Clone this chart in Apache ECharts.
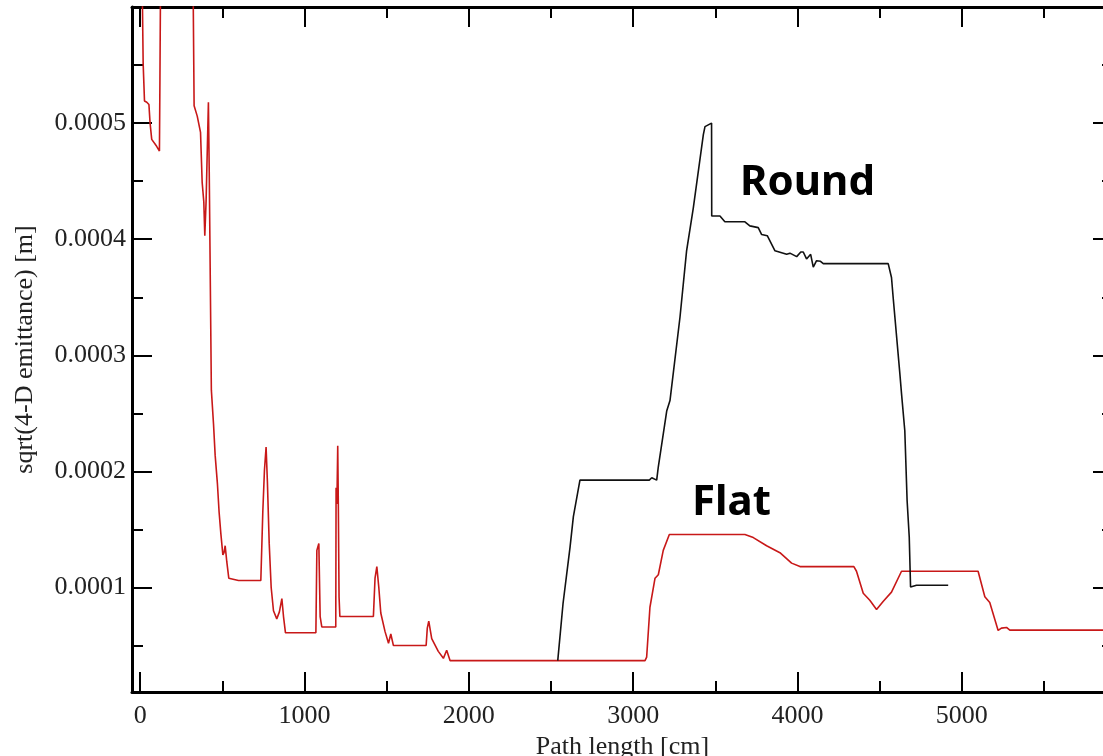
<!DOCTYPE html>
<html>
<head>
<meta charset="utf-8">
<script src="https://cdn.jsdelivr.net/npm/echarts@6/dist/echarts.min.js"></script>
<style>
  html, body { margin:0; padding:0; background:#fff; }
  #chart { width:1103px; height:756px; }
</style>
</head>
<body>
<div id="chart"></div>
<script>
// path length [cm] and sqrt(4-D emittance) [m]
let flatX = [0, 12, 18, 26, 40, 53, 60, 70, 100, 117, 120, 125, 200, 320, 328, 347, 367, 377, 387, 393, 401, 415, 420, 430, 433,
    446, 456, 470, 480, 491, 503, 510, 517, 522, 527, 539, 598, 734, 746, 756, 766, 774, 785, 797, 811, 831, 847, 862, 872, 884,
    1069, 1075, 1087, 1095, 1105, 1190, 1192, 1197, 1202, 1206, 1210, 1215, 1419, 1429, 1440, 1452, 1464, 1490, 1511, 1525, 1541,
    1740, 1747, 1756, 1774, 1814, 1845, 1865, 1886, 3072, 3082, 3102, 3133, 3153, 3183, 3220, 3680, 3731, 3812, 3893, 3964, 4015,
    4343, 4359, 4400, 4440, 4481, 4521, 4572, 4633, 5099, 5140, 5170, 5221, 5241, 5272, 5292, 6000];
let flatY = [0.0009, 0.00062, 0.000551, 0.000519, 0.000518, 0.000516, 0.0005, 0.000486, 0.00048, 0.000476, 0.000538, 0.00065, 0.0008,
    0.00065, 0.000515, 0.000506, 0.000492, 0.000449, 0.000432, 0.000403, 0.000433, 0.000518, 0.000459, 0.000459, 0.00027,
    0.000241, 0.000214, 0.000189, 0.000165, 0.000146, 0.000128, 0.00013, 0.000136, 0.000129, 0.000122, 0.000108, 0.000106, 0.000106,
    0.000165, 0.000201, 0.000221, 0.000191, 0.000138, 0.0001, 0.00008, 0.000073, 0.000079, 0.0000905, 0.000075, 0.000061,
    0.000061, 0.000132, 0.000138, 0.000075, 0.000066, 0.000066, 0.000186, 0.000172, 0.000222, 0.000166, 0.000092, 0.000075,
    0.000075, 0.000108, 0.000118, 0.0001, 0.000078, 0.000062, 0.000052, 0.00006, 0.00005,
    0.00005, 0.000065, 0.000071, 0.000056, 0.000045, 0.000039, 0.000046, 0.000037, 0.000037, 0.00004, 0.000083, 0.000108,
    0.000111, 0.000132, 0.0001456, 0.0001456, 0.000143, 0.000136, 0.00013, 0.000121, 0.000118,
    0.000118, 0.000114, 0.000095, 0.000089, 0.000081, 0.000088, 0.000096, 0.000114, 0.000114, 0.000092, 0.000087, 0.000063,
    0.000065, 0.0000656, 0.0000633, 0.0000633];

let roundX = [2541, 2573, 2616, 2636, 2676, 3098, 3113, 3123, 3143, 3153, 3204, 3224, 3285, 3325, 3366, 3427, 3437, 3447, 3477,
    3478, 3528, 3558, 3680, 3710, 3761, 3782, 3816, 3863, 3934, 3954, 3995, 4020, 4035, 4055, 4080, 4096, 4116, 4140, 4157,
    4552, 4572, 4582, 4623, 4633, 4653, 4667, 4680, 4688, 4700, 4724, 4917];
let roundY = [0.000037, 0.000086, 0.000135, 0.000161, 0.0001925, 0.0001925, 0.0001945, 0.000194, 0.0001925, 0.000204, 0.000252,
    0.000261, 0.000333, 0.00039, 0.000427, 0.00049, 0.000497, 0.000496, 0.0005,
    0.00042, 0.00042, 0.000415, 0.000415, 0.0004115, 0.00041, 0.000404, 0.000403, 0.00039, 0.000387, 0.000388, 0.000385, 0.000389,
    0.000389, 0.000383, 0.000387, 0.000376, 0.0003815, 0.000381, 0.000379,
    0.000379, 0.000367, 0.00035, 0.000284, 0.000267, 0.000235, 0.000175, 0.0001435, 0.0001005, 0.0001005, 0.000102, 0.000102];

let xMajor = [0, 1000, 2000, 3000, 4000, 5000];
let xMinor = [500, 1500, 2500, 3500, 4500, 5500];
let yMajor = [0.0001, 0.0002, 0.0003, 0.0004, 0.0005];
let yMinor = [0.00005, 0.00015, 0.00025, 0.00035, 0.00045, 0.00055];

const X_MIN = -50, X_MAX = 5920;
const Y_MIN = 0.00001, Y_MAX = 0.0006;
const serif = '"Liberation Serif", "DejaVu Serif", serif';

function pairs(xs, ys){
    return xs.map((x, i) => [x, ys[i]]);
}

// one axis for the long ticks (+labels), one for the short ticks, on each side
function makeX(position, withLabels, values, len, showLine){
    return {
        type:'value', position, min:X_MIN, max:X_MAX,
        axisLine:{ show:showLine, onZero:false, lineStyle:{ color:'#000', width:3 } },
        axisTick:{ show:true, inside:true, length:len, customValues:values, lineStyle:{ color:'#000', width:2 } },
        axisLabel:{ show:withLabels, customValues:values, margin:11, color:'#222', fontFamily:serif, fontSize:26,
            formatter:(v)=>String(v) },
        splitLine:{ show:false }
    };
}
function makeY(position, withLabels, values, len, showLine){
    return {
        type:'value', position, min:Y_MIN, max:Y_MAX,
        axisLine:{ show:showLine, onZero:false, lineStyle:{ color:'#000', width:3 } },
        axisTick:{ show:true, inside:true, length:len, customValues:values, lineStyle:{ color:'#000', width:2 } },
        axisLabel:{ show:withLabels, customValues:values, margin:6, color:'#222', fontFamily:serif, fontSize:26,
            formatter:(v)=>v.toFixed(4) },
        splitLine:{ show:false }
    };
}

let xAxes = [
    makeX('bottom', true, xMajor, 20, true),
    makeX('bottom', false, xMinor, 11, false),
    makeX('top', false, xMajor, 20, true),
    makeX('top', false, xMinor, 11, false)
];
xAxes[0].name = 'Path length [cm]';
xAxes[0].nameLocation = 'middle';
xAxes[0].nameGap = 30;
xAxes[0].nameTextStyle = { color:'#222', fontFamily:serif, fontSize:26 };

let yAxes = [
    makeY('left', true, yMajor, 20, true),
    makeY('left', false, yMinor, 11, false),
    makeY('right', false, yMajor, 20, true),
    makeY('right', false, yMinor, 11, false)
];
yAxes[0].name = 'sqrt(4-D emittance) [m]';
yAxes[0].nameLocation = 'middle';
yAxes[0].nameGap = 94;
yAxes[0].nameTextStyle = { color:'#222', fontFamily:serif, fontSize:26 };

let myChart = echarts.init(document.getElementById('chart'), null, { renderer:'canvas' });
let option = {
    animation:false,
    backgroundColor:'#fff',
    // the right frame of the original plot lies just past the picture's edge
    grid:{ left:132, top:7, right:-10, bottom:64, containLabel:false, outerBoundsMode:'none' },
    xAxis:xAxes,
    yAxis:yAxes,
    graphic:[
        { type:'text', left:740, top:162, style:{ text:'Round', fill:'#000', font:'bold 42px "Noto Sans", sans-serif' } },
        { type:'text', left:692, top:482, style:{ text:'Flat', fill:'#000', font:'bold 42px "Noto Sans", sans-serif' } }
    ],
    series:[
        {
            type:'line', name:'Flat', xAxisIndex:0, yAxisIndex:0,
            showSymbol:false, clip:true,
            lineStyle:{ color:'#c81818', width:1.6 },
            data:pairs(flatX, flatY)
        },
        {
            type:'line', name:'Round', xAxisIndex:0, yAxisIndex:0,
            showSymbol:false, clip:true,
            lineStyle:{ color:'#111', width:1.6 },
            data:pairs(roundX, roundY)
        }
    ]
};
myChart.setOption(option);
</script>
</body>
</html>
